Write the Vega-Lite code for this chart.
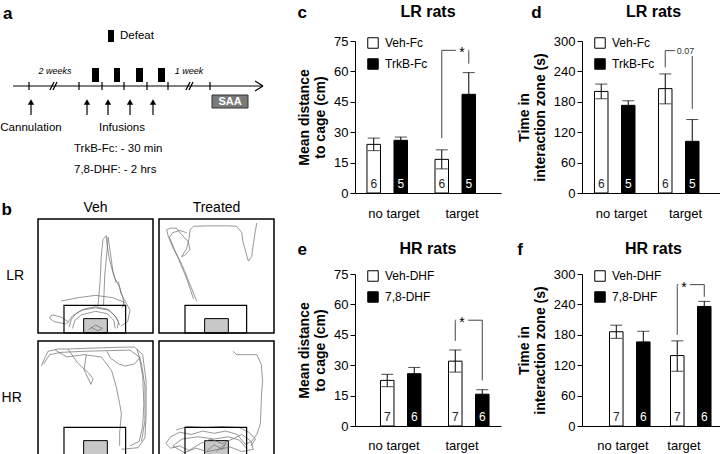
{
"$schema":"https://vega.github.io/schema/vega-lite/v6.json",
"padding":{"left":0,"top":4,"right":0,"bottom":0},
"config":{"font":"Liberation Sans","view":{"stroke":null},
 "axis":{"domainColor":"black","tickColor":"black","labelColor":"black","titleColor":"black","grid":false,"labelFontSize":13,"titleFontSize":14,"titleFontWeight":"bold","tickSize":5,"labelPadding":2,"titlePadding":6,"titleLineHeight":16},
 "title":{"color":"black"},
 "header":{"labelColor":"black"}},
"datasets":{
 "c":[{"g":"no target","t":"Veh-Fc","mean":24,"lo":20.9,"hi":27.1,"n":"6"},{"g":"no target","t":"TrkB-Fc","mean":26,"lo":24.4,"hi":27.6,"n":"5"},{"g":"target","t":"Veh-Fc","mean":16.6,"lo":11.9,"hi":21.3,"n":"6"},{"g":"target","t":"TrkB-Fc","mean":48.7,"lo":38,"hi":59.4,"n":"5"}],
 "cb":[{"g":"target","t":"Veh-Fc","y":27.1,"o":1},{"g":"target","t":"Veh-Fc","y":70.4,"o":2},{"g":"target","t":"TrkB-Fc","y":70.4,"o":3},{"g":"target","t":"TrkB-Fc","y":63.8,"o":4}],
 "cs":[{"g":"target","y":70.4,"s":"*"}],
 "d":[{"g":"no target","t":"Veh-Fc","mean":200.5,"lo":186,"hi":215,"n":"6"},{"g":"no target","t":"TrkB-Fc","mean":173,"lo":164,"hi":182,"n":"5"},{"g":"target","t":"Veh-Fc","mean":206,"lo":176,"hi":235,"n":"6"},{"g":"target","t":"TrkB-Fc","mean":102,"lo":59,"hi":145,"n":"5"}],
 "db":[{"g":"target","t":"Veh-Fc","y":248,"o":1},{"g":"target","t":"Veh-Fc","y":281,"o":2},{"g":"target","t":"TrkB-Fc","y":281,"o":3},{"g":"target","t":"TrkB-Fc","y":166,"o":4}],
 "ds":[{"g":"target","y":281,"s":"0.07"}],
 "e":[{"g":"no target","t":"Veh-DHF","mean":22.5,"lo":19.4,"hi":25.5,"n":"7"},{"g":"no target","t":"7,8-DHF","mean":25.8,"lo":22.7,"hi":28.9,"n":"6"},{"g":"target","t":"Veh-DHF","mean":32,"lo":26.6,"hi":37.5,"n":"7"},{"g":"target","t":"7,8-DHF","mean":15.7,"lo":13.5,"hi":17.9,"n":"6"}],
 "eb":[{"g":"target","t":"Veh-DHF","y":42,"o":1},{"g":"target","t":"Veh-DHF","y":52.2,"o":2},{"g":"target","t":"7,8-DHF","y":52.2,"o":3},{"g":"target","t":"7,8-DHF","y":22.5,"o":4}],
 "es":[{"g":"target","y":52.2,"s":"*"}],
 "f":[{"g":"no target","t":"Veh-DHF","mean":186,"lo":173,"hi":199,"n":"7"},{"g":"no target","t":"7,8-DHF","mean":166,"lo":145,"hi":187,"n":"6"},{"g":"target","t":"Veh-DHF","mean":139,"lo":108,"hi":168,"n":"7"},{"g":"target","t":"7,8-DHF","mean":236,"lo":226,"hi":246,"n":"6"}],
 "fb":[{"g":"target","t":"Veh-DHF","y":180,"o":1},{"g":"target","t":"Veh-DHF","y":279,"o":2},{"g":"target","t":"7,8-DHF","y":279,"o":3},{"g":"target","t":"7,8-DHF","y":255,"o":4}],
 "fs":[{"g":"target","y":279,"s":"*"}],
 "a":[
  {"k":"rule","x":12,"y":84,"x2":262,"y2":84},
  {"k":"rule","x":254,"y":79,"x2":262,"y2":84},
  {"k":"rule","x":254,"y":89,"x2":262,"y2":84},
  {"k":"rule","x":28,"y":80,"x2":28,"y2":88},
  {"k":"rule","x":78,"y":80,"x2":78,"y2":88},
  {"k":"rule","x":101,"y":80,"x2":101,"y2":88},
  {"k":"rule","x":123,"y":80,"x2":123,"y2":88},
  {"k":"rule","x":146,"y":80,"x2":146,"y2":88},
  {"k":"rule","x":167,"y":80,"x2":167,"y2":88},
  {"k":"rule","x":209,"y":80,"x2":209,"y2":88},
  {"k":"rule","x":49,"y":88,"x2":53,"y2":80},
  {"k":"rule","x":52,"y":88,"x2":56,"y2":80},
  {"k":"rule","x":185,"y":88,"x2":189,"y2":80},
  {"k":"rule","x":188,"y":88,"x2":192,"y2":80},
  {"k":"rule","x":30,"y":113,"x2":30,"y2":100},
  {"k":"rule","x":86,"y":113,"x2":86,"y2":100},
  {"k":"rule","x":107,"y":113,"x2":107,"y2":100},
  {"k":"rule","x":129,"y":113,"x2":129,"y2":100},
  {"k":"rule","x":152,"y":113,"x2":152,"y2":100},
  {"k":"tri","x":30,"y":100},{"k":"tri","x":86,"y":100},{"k":"tri","x":107,"y":100},{"k":"tri","x":129,"y":100},{"k":"tri","x":152,"y":100},
  {"k":"rect","x":91,"x2":98,"y":66,"y2":80},
  {"k":"rect","x":113,"x2":119,"y":66,"y2":80},
  {"k":"rect","x":135,"x2":142,"y":66,"y2":80},
  {"k":"rect","x":157,"x2":164,"y":66,"y2":80},
  {"k":"rect","x":107,"x2":113,"y":28,"y2":40},
  {"k":"saa","x":211,"x2":247,"y":93,"y2":106},
  {"k":"tc","x":30,"y":126,"label":"Cannulation"},
  {"k":"tc","x":121,"y":126,"label":"Infusions"},
  {"k":"tl","x":119,"y":34,"label":"Defeat"},
  {"k":"tl","x":73,"y":147,"label":"TrkB-Fc: - 30 min"},
  {"k":"tl","x":73,"y":168,"label":"7,8-DHF: - 2 hrs"},
  {"k":"ti","x":54,"y":69,"label":"2 weeks"},
  {"k":"ti","x":188,"y":69,"label":"1 week"},
  {"k":"ts","x":229,"y":100,"label":"SAA"},
  {"k":"tletter","x":2,"y":12,"label":"a"}
 ],
 "b":[
  {"r":"LR","t":"Veh","k":"box","x":0,"x2":100,"y":0,"y2":100},
  {"r":"LR","t":"Treated","k":"box","x":0,"x2":100,"y":0,"y2":100},
  {"r":"HR","t":"Veh","k":"box","x":0,"x2":100,"y":0,"y2":100},
  {"r":"HR","t":"Treated","k":"box","x":0,"x2":100,"y":0,"y2":100},
  {"r":"LR","t":"Veh","k":"zone","x":22.6,"x2":76.2,"y":0,"y2":24.3},
  {"r":"LR","t":"Treated","k":"zone","x":22.6,"x2":76.2,"y":0,"y2":24.3},
  {"r":"HR","t":"Veh","k":"zone","x":22.6,"x2":76.2,"y":0,"y2":24.3},
  {"r":"HR","t":"Treated","k":"zone","x":22.6,"x2":76.2,"y":0,"y2":24.3},
  {"r":"LR","t":"Veh","k":"cage","x":39.7,"x2":60.3,"y":0,"y2":12.6},
  {"r":"LR","t":"Treated","k":"cage","x":39.7,"x2":60.3,"y":0,"y2":12.6},
  {"r":"HR","t":"Veh","k":"cage","x":39.7,"x2":60.3,"y":0,"y2":12.6},
  {"r":"HR","t":"Treated","k":"cage","x":39.7,"x2":60.3,"y":0,"y2":12.6},
  {"r":"LR","t":"Veh","k":"tr","s":1,"o":1,"x":27,"y":5},{"r":"LR","t":"Veh","k":"tr","s":1,"o":2,"x":29,"y":12},{"r":"LR","t":"Veh","k":"tr","s":1,"o":3,"x":33,"y":17},{"r":"LR","t":"Veh","k":"tr","s":1,"o":4,"x":40,"y":21},{"r":"LR","t":"Veh","k":"tr","s":1,"o":5,"x":50,"y":23},{"r":"LR","t":"Veh","k":"tr","s":1,"o":6,"x":60,"y":21},{"r":"LR","t":"Veh","k":"tr","s":1,"o":7,"x":66,"y":16},{"r":"LR","t":"Veh","k":"tr","s":1,"o":8,"x":70,"y":10},{"r":"LR","t":"Veh","k":"tr","s":1,"o":9,"x":69,"y":4},
  {"r":"LR","t":"Veh","k":"tr","s":2,"o":1,"x":25,"y":8},{"r":"LR","t":"Veh","k":"tr","s":2,"o":2,"x":30,"y":15},{"r":"LR","t":"Veh","k":"tr","s":2,"o":3,"x":38,"y":20},{"r":"LR","t":"Veh","k":"tr","s":2,"o":4,"x":50,"y":22},{"r":"LR","t":"Veh","k":"tr","s":2,"o":5,"x":62,"y":20},{"r":"LR","t":"Veh","k":"tr","s":2,"o":6,"x":68,"y":14},{"r":"LR","t":"Veh","k":"tr","s":2,"o":7,"x":71,"y":7},
  {"r":"LR","t":"Veh","k":"tr","s":3,"o":1,"x":30,"y":4},{"r":"LR","t":"Veh","k":"tr","s":3,"o":2,"x":32,"y":11},{"r":"LR","t":"Veh","k":"tr","s":3,"o":3,"x":38,"y":16},{"r":"LR","t":"Veh","k":"tr","s":3,"o":4,"x":50,"y":19},{"r":"LR","t":"Veh","k":"tr","s":3,"o":5,"x":60,"y":17},{"r":"LR","t":"Veh","k":"tr","s":3,"o":6,"x":66,"y":11},{"r":"LR","t":"Veh","k":"tr","s":3,"o":7,"x":67,"y":4},
  {"r":"LR","t":"Veh","k":"tr","s":4,"o":1,"x":52,"y":23},{"r":"LR","t":"Veh","k":"tr","s":4,"o":2,"x":54,"y":45},{"r":"LR","t":"Veh","k":"tr","s":4,"o":3,"x":55,"y":67},{"r":"LR","t":"Veh","k":"tr","s":4,"o":4,"x":56.5,"y":82},{"r":"LR","t":"Veh","k":"tr","s":4,"o":5,"x":59.4,"y":85.4},{"r":"LR","t":"Veh","k":"tr","s":4,"o":6,"x":60,"y":78},{"r":"LR","t":"Veh","k":"tr","s":4,"o":7,"x":62,"y":65},{"r":"LR","t":"Veh","k":"tr","s":4,"o":8,"x":66,"y":50},{"r":"LR","t":"Veh","k":"tr","s":4,"o":9,"x":71,"y":40},{"r":"LR","t":"Veh","k":"tr","s":4,"o":10,"x":74,"y":30},{"r":"LR","t":"Veh","k":"tr","s":4,"o":11,"x":75,"y":23},
  {"r":"LR","t":"Veh","k":"tr","s":5,"o":1,"x":57,"y":24},{"r":"LR","t":"Veh","k":"tr","s":5,"o":2,"x":58,"y":50},{"r":"LR","t":"Veh","k":"tr","s":5,"o":3,"x":60,"y":72},{"r":"LR","t":"Veh","k":"tr","s":5,"o":4,"x":61,"y":84},{"r":"LR","t":"Veh","k":"tr","s":5,"o":5,"x":63,"y":70},{"r":"LR","t":"Veh","k":"tr","s":5,"o":6,"x":65,"y":55},{"r":"LR","t":"Veh","k":"tr","s":5,"o":7,"x":68,"y":44},
  {"r":"LR","t":"Veh","k":"tr","s":6,"o":1,"x":26,"y":10},{"r":"LR","t":"Veh","k":"tr","s":6,"o":2,"x":20,"y":14},{"r":"LR","t":"Veh","k":"tr","s":6,"o":3,"x":12,"y":16},{"r":"LR","t":"Veh","k":"tr","s":6,"o":4,"x":10,"y":13},{"r":"LR","t":"Veh","k":"tr","s":6,"o":5,"x":14,"y":10},{"r":"LR","t":"Veh","k":"tr","s":6,"o":6,"x":24,"y":8},
  {"r":"LR","t":"Veh","k":"tr","s":7,"o":1,"x":20,"y":28},{"r":"LR","t":"Veh","k":"tr","s":7,"o":2,"x":35,"y":31},{"r":"LR","t":"Veh","k":"tr","s":7,"o":3,"x":50,"y":33},{"r":"LR","t":"Veh","k":"tr","s":7,"o":4,"x":65,"y":31},{"r":"LR","t":"Veh","k":"tr","s":7,"o":5,"x":75,"y":27},{"r":"LR","t":"Veh","k":"tr","s":7,"o":6,"x":73,"y":22},
  {"r":"LR","t":"Veh","k":"tr","s":8,"o":1,"x":70,"y":45},{"r":"LR","t":"Veh","k":"tr","s":8,"o":2,"x":72,"y":35},{"r":"LR","t":"Veh","k":"tr","s":8,"o":3,"x":80,"y":20},{"r":"LR","t":"Veh","k":"tr","s":8,"o":4,"x":78,"y":10},{"r":"LR","t":"Veh","k":"tr","s":8,"o":5,"x":72,"y":6},
  {"r":"LR","t":"Veh","k":"tr","s":9,"o":1,"x":44,"y":3},{"r":"LR","t":"Veh","k":"tr","s":9,"o":2,"x":50,"y":7},{"r":"LR","t":"Veh","k":"tr","s":9,"o":3,"x":56,"y":4},{"r":"LR","t":"Veh","k":"tr","s":9,"o":4,"x":52,"y":2},{"r":"LR","t":"Veh","k":"tr","s":9,"o":5,"x":46,"y":5},
  {"r":"LR","t":"Treated","k":"tr","s":1,"o":1,"x":32.8,"y":27.8},{"r":"LR","t":"Treated","k":"tr","s":1,"o":2,"x":28,"y":40},{"r":"LR","t":"Treated","k":"tr","s":1,"o":3,"x":22,"y":55},{"r":"LR","t":"Treated","k":"tr","s":1,"o":4,"x":18,"y":64},{"r":"LR","t":"Treated","k":"tr","s":1,"o":5,"x":12,"y":75},{"r":"LR","t":"Treated","k":"tr","s":1,"o":6,"x":8,"y":85},{"r":"LR","t":"Treated","k":"tr","s":1,"o":7,"x":6.7,"y":90.6},{"r":"LR","t":"Treated","k":"tr","s":1,"o":8,"x":10,"y":92},{"r":"LR","t":"Treated","k":"tr","s":1,"o":9,"x":15,"y":92},{"r":"LR","t":"Treated","k":"tr","s":1,"o":10,"x":20,"y":86},{"r":"LR","t":"Treated","k":"tr","s":1,"o":11,"x":25.5,"y":80},{"r":"LR","t":"Treated","k":"tr","s":1,"o":12,"x":27,"y":73},{"r":"LR","t":"Treated","k":"tr","s":1,"o":13,"x":22,"y":68},{"r":"LR","t":"Treated","k":"tr","s":1,"o":14,"x":19.7,"y":67},{"r":"LR","t":"Treated","k":"tr","s":1,"o":15,"x":24,"y":74},{"r":"LR","t":"Treated","k":"tr","s":1,"o":16,"x":26,"y":82},{"r":"LR","t":"Treated","k":"tr","s":1,"o":17,"x":27,"y":90.6},{"r":"LR","t":"Treated","k":"tr","s":1,"o":18,"x":30,"y":93.6},{"r":"LR","t":"Treated","k":"tr","s":1,"o":19,"x":45,"y":94},{"r":"LR","t":"Treated","k":"tr","s":1,"o":20,"x":60,"y":94},{"r":"LR","t":"Treated","k":"tr","s":1,"o":21,"x":67.5,"y":93.6},{"r":"LR","t":"Treated","k":"tr","s":1,"o":22,"x":72,"y":88},{"r":"LR","t":"Treated","k":"tr","s":1,"o":23,"x":73,"y":80},{"r":"LR","t":"Treated","k":"tr","s":1,"o":24,"x":77.7,"y":63},{"r":"LR","t":"Treated","k":"tr","s":1,"o":25,"x":80.6,"y":67},{"r":"LR","t":"Treated","k":"tr","s":1,"o":26,"x":82,"y":78},{"r":"LR","t":"Treated","k":"tr","s":1,"o":27,"x":83.5,"y":87.7},{"r":"LR","t":"Treated","k":"tr","s":1,"o":28,"x":85,"y":96.5},
  {"r":"LR","t":"Treated","k":"tr","s":2,"o":1,"x":30,"y":30},{"r":"LR","t":"Treated","k":"tr","s":2,"o":2,"x":24,"y":48},{"r":"LR","t":"Treated","k":"tr","s":2,"o":3,"x":19,"y":60},{"r":"LR","t":"Treated","k":"tr","s":2,"o":4,"x":14,"y":72},{"r":"LR","t":"Treated","k":"tr","s":2,"o":5,"x":9,"y":84},{"r":"LR","t":"Treated","k":"tr","s":2,"o":6,"x":12,"y":88},{"r":"LR","t":"Treated","k":"tr","s":2,"o":7,"x":18,"y":90},{"r":"LR","t":"Treated","k":"tr","s":2,"o":8,"x":24,"y":88},
  {"r":"HR","t":"Veh","k":"tr","s":1,"o":1,"x":3,"y":78},{"r":"HR","t":"Veh","k":"tr","s":1,"o":2,"x":5.8,"y":85},{"r":"HR","t":"Veh","k":"tr","s":1,"o":3,"x":8.7,"y":91},{"r":"HR","t":"Veh","k":"tr","s":1,"o":4,"x":18,"y":93},{"r":"HR","t":"Veh","k":"tr","s":1,"o":5,"x":26,"y":93},{"r":"HR","t":"Veh","k":"tr","s":1,"o":6,"x":40,"y":93.5},{"r":"HR","t":"Veh","k":"tr","s":1,"o":7,"x":55,"y":94},{"r":"HR","t":"Veh","k":"tr","s":1,"o":8,"x":70,"y":94.5},{"r":"HR","t":"Veh","k":"tr","s":1,"o":9,"x":84,"y":94.7},{"r":"HR","t":"Veh","k":"tr","s":1,"o":10,"x":91,"y":88},{"r":"HR","t":"Veh","k":"tr","s":1,"o":11,"x":94,"y":65},{"r":"HR","t":"Veh","k":"tr","s":1,"o":12,"x":94,"y":36},{"r":"HR","t":"Veh","k":"tr","s":1,"o":13,"x":93,"y":15},{"r":"HR","t":"Veh","k":"tr","s":1,"o":14,"x":87,"y":6.4},{"r":"HR","t":"Veh","k":"tr","s":1,"o":15,"x":72.5,"y":5},
  {"r":"HR","t":"Veh","k":"tr","s":2,"o":1,"x":5,"y":80},{"r":"HR","t":"Veh","k":"tr","s":2,"o":2,"x":10,"y":88},{"r":"HR","t":"Veh","k":"tr","s":2,"o":3,"x":20,"y":90},{"r":"HR","t":"Veh","k":"tr","s":2,"o":4,"x":40,"y":91},{"r":"HR","t":"Veh","k":"tr","s":2,"o":5,"x":60,"y":91.5},{"r":"HR","t":"Veh","k":"tr","s":2,"o":6,"x":80,"y":92},{"r":"HR","t":"Veh","k":"tr","s":2,"o":7,"x":88,"y":86},{"r":"HR","t":"Veh","k":"tr","s":2,"o":8,"x":91,"y":70},{"r":"HR","t":"Veh","k":"tr","s":2,"o":9,"x":92,"y":45},{"r":"HR","t":"Veh","k":"tr","s":2,"o":10,"x":91,"y":25},{"r":"HR","t":"Veh","k":"tr","s":2,"o":11,"x":88,"y":12},{"r":"HR","t":"Veh","k":"tr","s":2,"o":12,"x":80,"y":8},
  {"r":"HR","t":"Veh","k":"tr","s":3,"o":1,"x":15,"y":92},{"r":"HR","t":"Veh","k":"tr","s":3,"o":2,"x":25,"y":86},{"r":"HR","t":"Veh","k":"tr","s":3,"o":3,"x":40,"y":88},{"r":"HR","t":"Veh","k":"tr","s":3,"o":4,"x":55,"y":86},{"r":"HR","t":"Veh","k":"tr","s":3,"o":5,"x":64,"y":74},{"r":"HR","t":"Veh","k":"tr","s":3,"o":6,"x":68,"y":60},{"r":"HR","t":"Veh","k":"tr","s":3,"o":7,"x":71,"y":45},{"r":"HR","t":"Veh","k":"tr","s":3,"o":8,"x":72.5,"y":36},{"r":"HR","t":"Veh","k":"tr","s":3,"o":9,"x":71,"y":20},{"r":"HR","t":"Veh","k":"tr","s":3,"o":10,"x":71,"y":8},
  {"r":"HR","t":"Veh","k":"tr","s":4,"o":1,"x":26,"y":93},{"r":"HR","t":"Veh","k":"tr","s":4,"o":2,"x":35,"y":80},{"r":"HR","t":"Veh","k":"tr","s":4,"o":3,"x":44,"y":72},{"r":"HR","t":"Veh","k":"tr","s":4,"o":4,"x":48,"y":66.7},{"r":"HR","t":"Veh","k":"tr","s":4,"o":5,"x":46,"y":62},{"r":"HR","t":"Veh","k":"tr","s":4,"o":6,"x":40,"y":75},{"r":"HR","t":"Veh","k":"tr","s":4,"o":7,"x":42,"y":88},
  {"r":"HR","t":"Veh","k":"tr","s":5,"o":1,"x":86,"y":93},{"r":"HR","t":"Veh","k":"tr","s":5,"o":2,"x":90,"y":80},{"r":"HR","t":"Veh","k":"tr","s":5,"o":3,"x":93,"y":60},{"r":"HR","t":"Veh","k":"tr","s":5,"o":4,"x":93,"y":30},{"r":"HR","t":"Veh","k":"tr","s":5,"o":5,"x":90,"y":12},
  {"r":"HR","t":"Veh","k":"tr","s":6,"o":1,"x":60,"y":91},{"r":"HR","t":"Veh","k":"tr","s":6,"o":2,"x":63,"y":85},{"r":"HR","t":"Veh","k":"tr","s":6,"o":3,"x":70,"y":80},{"r":"HR","t":"Veh","k":"tr","s":6,"o":4,"x":76,"y":78},{"r":"HR","t":"Veh","k":"tr","s":6,"o":5,"x":84,"y":80},{"r":"HR","t":"Veh","k":"tr","s":6,"o":6,"x":89,"y":86},
  {"r":"HR","t":"Treated","k":"tr","s":1,"o":1,"x":64.6,"y":91},{"r":"HR","t":"Treated","k":"tr","s":1,"o":2,"x":67.5,"y":88},{"r":"HR","t":"Treated","k":"tr","s":1,"o":3,"x":76,"y":88},{"r":"HR","t":"Treated","k":"tr","s":1,"o":4,"x":85,"y":88},{"r":"HR","t":"Treated","k":"tr","s":1,"o":5,"x":89,"y":79.5},{"r":"HR","t":"Treated","k":"tr","s":1,"o":6,"x":90,"y":65},{"r":"HR","t":"Treated","k":"tr","s":1,"o":7,"x":89,"y":50},{"r":"HR","t":"Treated","k":"tr","s":1,"o":8,"x":88.5,"y":35},{"r":"HR","t":"Treated","k":"tr","s":1,"o":9,"x":88,"y":27},{"r":"HR","t":"Treated","k":"tr","s":1,"o":10,"x":85,"y":18},{"r":"HR","t":"Treated","k":"tr","s":1,"o":11,"x":80.6,"y":12},{"r":"HR","t":"Treated","k":"tr","s":1,"o":12,"x":75,"y":9.4},
  {"r":"HR","t":"Treated","k":"tr","s":2,"o":1,"x":75,"y":9.4},{"r":"HR","t":"Treated","k":"tr","s":2,"o":2,"x":68,"y":18},{"r":"HR","t":"Treated","k":"tr","s":2,"o":3,"x":58,"y":21},{"r":"HR","t":"Treated","k":"tr","s":2,"o":4,"x":48,"y":19},{"r":"HR","t":"Treated","k":"tr","s":2,"o":5,"x":38,"y":21},{"r":"HR","t":"Treated","k":"tr","s":2,"o":6,"x":28,"y":18},{"r":"HR","t":"Treated","k":"tr","s":2,"o":7,"x":18,"y":20},{"r":"HR","t":"Treated","k":"tr","s":2,"o":8,"x":10,"y":16},{"r":"HR","t":"Treated","k":"tr","s":2,"o":9,"x":6,"y":10},{"r":"HR","t":"Treated","k":"tr","s":2,"o":10,"x":10,"y":6},{"r":"HR","t":"Treated","k":"tr","s":2,"o":11,"x":18,"y":8},{"r":"HR","t":"Treated","k":"tr","s":2,"o":12,"x":26,"y":4},{"r":"HR","t":"Treated","k":"tr","s":2,"o":13,"x":36,"y":10},{"r":"HR","t":"Treated","k":"tr","s":2,"o":14,"x":45,"y":14},{"r":"HR","t":"Treated","k":"tr","s":2,"o":15,"x":55,"y":10},{"r":"HR","t":"Treated","k":"tr","s":2,"o":16,"x":64,"y":14},{"r":"HR","t":"Treated","k":"tr","s":2,"o":17,"x":72,"y":18},{"r":"HR","t":"Treated","k":"tr","s":2,"o":18,"x":80,"y":12},{"r":"HR","t":"Treated","k":"tr","s":2,"o":19,"x":82,"y":5},{"r":"HR","t":"Treated","k":"tr","s":2,"o":20,"x":72,"y":3},{"r":"HR","t":"Treated","k":"tr","s":2,"o":21,"x":62,"y":7},{"r":"HR","t":"Treated","k":"tr","s":2,"o":22,"x":52,"y":5},{"r":"HR","t":"Treated","k":"tr","s":2,"o":23,"x":42,"y":3},{"r":"HR","t":"Treated","k":"tr","s":2,"o":24,"x":32,"y":6},{"r":"HR","t":"Treated","k":"tr","s":2,"o":25,"x":22,"y":2},{"r":"HR","t":"Treated","k":"tr","s":2,"o":26,"x":12,"y":8},{"r":"HR","t":"Treated","k":"tr","s":2,"o":27,"x":20,"y":14},{"r":"HR","t":"Treated","k":"tr","s":2,"o":28,"x":34,"y":16},{"r":"HR","t":"Treated","k":"tr","s":2,"o":29,"x":48,"y":14},{"r":"HR","t":"Treated","k":"tr","s":2,"o":30,"x":60,"y":16},{"r":"HR","t":"Treated","k":"tr","s":2,"o":31,"x":70,"y":13},{"r":"HR","t":"Treated","k":"tr","s":2,"o":32,"x":76,"y":6},
  {"r":"HR","t":"Treated","k":"tr","s":3,"o":1,"x":15,"y":22},{"r":"HR","t":"Treated","k":"tr","s":3,"o":2,"x":25,"y":25},{"r":"HR","t":"Treated","k":"tr","s":3,"o":3,"x":40,"y":24},{"r":"HR","t":"Treated","k":"tr","s":3,"o":4,"x":55,"y":25},{"r":"HR","t":"Treated","k":"tr","s":3,"o":5,"x":70,"y":24},{"r":"HR","t":"Treated","k":"tr","s":3,"o":6,"x":78,"y":20},{"r":"HR","t":"Treated","k":"tr","s":3,"o":7,"x":84,"y":14},{"r":"HR","t":"Treated","k":"tr","s":3,"o":8,"x":80,"y":8},
  {"r":"HR","t":"Treated","k":"tr","s":4,"o":1,"x":42,"y":4},{"r":"HR","t":"Treated","k":"tr","s":4,"o":2,"x":48,"y":9},{"r":"HR","t":"Treated","k":"tr","s":4,"o":3,"x":55,"y":5},{"r":"HR","t":"Treated","k":"tr","s":4,"o":4,"x":58,"y":10},{"r":"HR","t":"Treated","k":"tr","s":4,"o":5,"x":50,"y":3}
 ]
},
"resolve":{"scale":{"fill":"independent"},"legend":{"fill":"independent"}},
"columns":2,
"spacing":22,
"concat":[
 {"columns":1,"spacing":2,"resolve":{"scale":{"fill":"independent"},"legend":{"fill":"independent"}},
  "concat":[
  {"width":234,"height":158,"data":{"name":"a"},
   "encoding":{"x":{"field":"x","type":"quantitative","scale":{"domain":[37,271],"nice":false,"zero":false},"axis":null},
               "y":{"field":"y","type":"quantitative","scale":{"domain":[39,197],"nice":false,"zero":false,"reverse":true},"axis":null}},
   "layer":[
    {"transform":[{"filter":"datum.k==='rule'"}],"mark":{"type":"rule","color":"black","strokeWidth":1.2},"encoding":{"x2":{"field":"x2"},"y2":{"field":"y2"}}},
    {"transform":[{"filter":"datum.k==='tri'"}],"mark":{"type":"point","shape":"triangle-up","filled":true,"color":"black","size":40,"opacity":1}},
    {"transform":[{"filter":"datum.k==='rect'"}],"mark":{"type":"rect","color":"black"},"encoding":{"x2":{"field":"x2"},"y2":{"field":"y2"}}},
    {"transform":[{"filter":"datum.k==='saa'"}],"mark":{"type":"rect","fill":"#7a7a7a","stroke":"#333","strokeWidth":1},"encoding":{"x2":{"field":"x2"},"y2":{"field":"y2"}}},
    {"transform":[{"filter":"datum.k==='tc'"}],"mark":{"type":"text","fontSize":11.5,"align":"center","baseline":"middle","color":"black"},"encoding":{"text":{"field":"label"}}},
    {"transform":[{"filter":"datum.k==='tl'"}],"mark":{"type":"text","fontSize":11.5,"align":"left","baseline":"middle","color":"black"},"encoding":{"text":{"field":"label"}}},
    {"transform":[{"filter":"datum.k==='ti'"}],"mark":{"type":"text","fontSize":9,"fontStyle":"italic","align":"center","baseline":"middle","color":"black"},"encoding":{"text":{"field":"label"}}},
    {"transform":[{"filter":"datum.k==='ts'"}],"mark":{"type":"text","fontSize":11,"fontWeight":"bold","align":"center","baseline":"middle","color":"white"},"encoding":{"text":{"field":"label"}}},
    {"transform":[{"filter":"datum.k==='tletter'"}],"mark":{"type":"text","fontSize":17,"fontWeight":"bold","align":"left","baseline":"middle","color":"black"},"encoding":{"text":{"field":"label"}}}
   ]},
  {"data":{"name":"b"},
   "title":{"text":"b","anchor":"start","frame":"bounds","fontSize":17,"fontWeight":"bold","offset":-18},
   "spacing":{"row":6,"column":4},
   "facet":{"row":{"field":"r","type":"nominal","sort":["LR","HR"],"header":{"title":null,"labelAngle":0,"labelFontSize":14,"labelPadding":-5}},
            "column":{"field":"t","type":"nominal","sort":["Veh","Treated"],"header":{"title":null,"labelFontSize":14,"labelPadding":3}}},
   "spec":{"width":115,"height":114,
    "encoding":{"x":{"field":"x","type":"quantitative","scale":{"domain":[0,100],"nice":false},"axis":null},
                "y":{"field":"y","type":"quantitative","scale":{"domain":[0,100],"nice":false},"axis":null}},
    "layer":[
     {"transform":[{"filter":"datum.k==='cage'"}],"mark":{"type":"rect","fill":"#c8c8c8","stroke":"black","strokeWidth":1},"encoding":{"x2":{"field":"x2"},"y2":{"field":"y2"}}},
     {"transform":[{"filter":"datum.k==='tr'"}],"mark":{"type":"line","color":"#6a6a6a","strokeWidth":0.7},"encoding":{"detail":{"field":"s"},"order":{"field":"o"}}},
     {"transform":[{"filter":"datum.k==='zone'"}],"mark":{"type":"rect","filled":false,"color":"black","strokeWidth":1.2},"encoding":{"x2":{"field":"x2"},"y2":{"field":"y2"}}},
     {"transform":[{"filter":"datum.k==='box'"}],"mark":{"type":"rect","filled":false,"color":"black","strokeWidth":1.5},"encoding":{"x2":{"field":"x2"},"y2":{"field":"y2"}}}
    ]}}
 ]},
 {"spacing":21,"resolve":{"scale":{"fill":"independent"},"legend":{"fill":"independent"}},
  "vconcat":[
   {"spacing":16,"resolve":{"scale":{"fill":"independent"},"legend":{"fill":"independent"}},
    "hconcat":[
     {"title":{"text":"c","anchor":"start","frame":"bounds","fontSize":17,"fontWeight":"bold","offset":-18},
      "resolve":{"scale":{"fill":"independent"},"legend":{"fill":"independent"}},
      "vconcat":[{"width":146,"height":152,"data":{"name":"c"},
       "title":{"text":"LR rats","fontSize":16,"fontWeight":"bold","anchor":"middle","offset":15},
       "layer":[
        {"mark":{"type":"bar","stroke":"black","strokeWidth":1},"encoding":{
          "x":{"field":"g","type":"nominal","sort":["no target","target"],"scale":{"paddingInner":0.206,"paddingOuter":0.176},"axis":{"title":null,"ticks":false,"labelAngle":0,"labelPadding":14}},
          "xOffset":{"field":"t","type":"nominal","sort":["Veh-Fc","TrkB-Fc"],"scale":{"paddingInner":0,"paddingOuter":0}},
          "y":{"field":"mean","type":"quantitative","scale":{"domain":[0,75],"nice":false},"axis":{"values":[0,15,30,45,60,75],"title":["Mean distance","to cage (cm)"]}},
          "fill":{"field":"t","type":"nominal","scale":{"domain":["Veh-Fc","TrkB-Fc"],"range":["white","black"]},"legend":{"title":null,"orient":"none","legendX":12,"legendY":-4,"symbolType":"square","symbolSize":110,"symbolStrokeColor":"black","symbolStrokeWidth":1,"labelFontSize":12,"labelOffset":6,"rowPadding":5}}}},
        {"mark":{"type":"rule","color":"black","strokeWidth":1},"encoding":{"x":{"field":"g","type":"nominal","sort":["no target","target"]},"xOffset":{"field":"t","type":"nominal","sort":["Veh-Fc","TrkB-Fc"]},"y":{"field":"lo","type":"quantitative","axis":{"values":[0,15,30,45,60,75],"title":["Mean distance","to cage (cm)"]}},"y2":{"field":"hi"}}},
        {"mark":{"type":"tick","color":"black","size":12,"thickness":1},"encoding":{"x":{"field":"g","type":"nominal","sort":["no target","target"]},"xOffset":{"field":"t","type":"nominal","sort":["Veh-Fc","TrkB-Fc"]},"y":{"field":"hi","type":"quantitative","axis":{"values":[0,15,30,45,60,75],"title":["Mean distance","to cage (cm)"]}}}},
        {"mark":{"type":"tick","color":"black","size":12,"thickness":1},"encoding":{"x":{"field":"g","type":"nominal","sort":["no target","target"]},"xOffset":{"field":"t","type":"nominal","sort":["Veh-Fc","TrkB-Fc"]},"y":{"field":"lo","type":"quantitative","axis":{"values":[0,15,30,45,60,75],"title":["Mean distance","to cage (cm)"]}}}},
        {"mark":{"type":"text","fontSize":12,"baseline":"middle","dy":-9},"encoding":{"x":{"field":"g","type":"nominal","sort":["no target","target"]},"xOffset":{"field":"t","type":"nominal","sort":["Veh-Fc","TrkB-Fc"]},"y":{"datum":0,"type":"quantitative","axis":{"values":[0,15,30,45,60,75],"title":["Mean distance","to cage (cm)"]}},"text":{"field":"n"},"color":{"condition":{"test":"datum.t==='TrkB-Fc'","value":"white"},"value":"#222"}}},
        {"data":{"name":"cb"},"mark":{"type":"line","color":"#444","strokeWidth":1},"encoding":{"x":{"field":"g","type":"nominal","sort":["no target","target"]},"xOffset":{"field":"t","type":"nominal","sort":["Veh-Fc","TrkB-Fc"]},"y":{"field":"y","type":"quantitative","axis":{"values":[0,15,30,45,60,75],"title":["Mean distance","to cage (cm)"]}},"order":{"field":"o"}}},
        {"data":{"name":"cs"},"mark":{"type":"text","fontSize":14,"baseline":"middle","dy":3,"fill":"white","stroke":"white","strokeWidth":6},"encoding":{"x":{"field":"g","type":"nominal","sort":["no target","target"]},"y":{"field":"y","type":"quantitative","axis":{"values":[0,15,30,45,60,75],"title":["Mean distance","to cage (cm)"]}},"text":{"field":"s"}}},
        {"data":{"name":"cs"},"mark":{"type":"text","fontSize":14,"baseline":"middle","dy":3,"fill":"black"},"encoding":{"x":{"field":"g","type":"nominal","sort":["no target","target"]},"y":{"field":"y","type":"quantitative","axis":{"values":[0,15,30,45,60,75],"title":["Mean distance","to cage (cm)"]}},"text":{"field":"s"}}}
       ]}]},
     {"title":{"text":"d","anchor":"start","frame":"bounds","fontSize":17,"fontWeight":"bold","offset":-18,"dx":14},
      "resolve":{"scale":{"fill":"independent"},"legend":{"fill":"independent"}},
      "vconcat":[{"width":143,"height":152,"data":{"name":"d"},
       "title":{"text":"LR rats","fontSize":16,"fontWeight":"bold","anchor":"middle","offset":15},
       "layer":[
        {"mark":{"type":"bar","stroke":"black","strokeWidth":1},"encoding":{
          "x":{"field":"g","type":"nominal","sort":["no target","target"],"scale":{"paddingInner":0.156,"paddingOuter":0.195},"axis":{"title":null,"ticks":false,"labelAngle":0,"labelPadding":14}},
          "xOffset":{"field":"t","type":"nominal","sort":["Veh-Fc","TrkB-Fc"],"scale":{"paddingInner":0,"paddingOuter":0}},
          "y":{"field":"mean","type":"quantitative","scale":{"domain":[0,300],"nice":false},"axis":{"values":[0,60,120,180,240,300],"title":["Time in","interaction zone (s)"]}},
          "fill":{"field":"t","type":"nominal","scale":{"domain":["Veh-Fc","TrkB-Fc"],"range":["white","black"]},"legend":{"title":null,"orient":"none","legendX":12,"legendY":-4,"symbolType":"square","symbolSize":110,"symbolStrokeColor":"black","symbolStrokeWidth":1,"labelFontSize":12,"labelOffset":6,"rowPadding":5}}}},
        {"mark":{"type":"rule","color":"black","strokeWidth":1},"encoding":{"x":{"field":"g","type":"nominal","sort":["no target","target"]},"xOffset":{"field":"t","type":"nominal","sort":["Veh-Fc","TrkB-Fc"]},"y":{"field":"lo","type":"quantitative","axis":{"values":[0,60,120,180,240,300],"title":["Time in","interaction zone (s)"]}},"y2":{"field":"hi"}}},
        {"mark":{"type":"tick","color":"black","size":12,"thickness":1},"encoding":{"x":{"field":"g","type":"nominal","sort":["no target","target"]},"xOffset":{"field":"t","type":"nominal","sort":["Veh-Fc","TrkB-Fc"]},"y":{"field":"hi","type":"quantitative","axis":{"values":[0,60,120,180,240,300],"title":["Time in","interaction zone (s)"]}}}},
        {"mark":{"type":"tick","color":"black","size":12,"thickness":1},"encoding":{"x":{"field":"g","type":"nominal","sort":["no target","target"]},"xOffset":{"field":"t","type":"nominal","sort":["Veh-Fc","TrkB-Fc"]},"y":{"field":"lo","type":"quantitative","axis":{"values":[0,60,120,180,240,300],"title":["Time in","interaction zone (s)"]}}}},
        {"mark":{"type":"text","fontSize":12,"baseline":"middle","dy":-9},"encoding":{"x":{"field":"g","type":"nominal","sort":["no target","target"]},"xOffset":{"field":"t","type":"nominal","sort":["Veh-Fc","TrkB-Fc"]},"y":{"datum":0,"type":"quantitative","axis":{"values":[0,60,120,180,240,300],"title":["Time in","interaction zone (s)"]}},"text":{"field":"n"},"color":{"condition":{"test":"datum.t==='TrkB-Fc'","value":"white"},"value":"#222"}}},
        {"data":{"name":"db"},"mark":{"type":"line","color":"#444","strokeWidth":1},"encoding":{"x":{"field":"g","type":"nominal","sort":["no target","target"]},"xOffset":{"field":"t","type":"nominal","sort":["Veh-Fc","TrkB-Fc"]},"y":{"field":"y","type":"quantitative","axis":{"values":[0,60,120,180,240,300],"title":["Time in","interaction zone (s)"]}},"order":{"field":"o"}}},
        {"data":{"name":"ds"},"mark":{"type":"text","fontSize":9,"baseline":"middle","fill":"white","stroke":"white","strokeWidth":4},"encoding":{"x":{"field":"g","type":"nominal","sort":["no target","target"]},"y":{"field":"y","type":"quantitative","axis":{"values":[0,60,120,180,240,300],"title":["Time in","interaction zone (s)"]}},"text":{"field":"s"}}},
        {"data":{"name":"ds"},"mark":{"type":"text","fontSize":9,"baseline":"middle","fill":"#333"},"encoding":{"x":{"field":"g","type":"nominal","sort":["no target","target"]},"y":{"field":"y","type":"quantitative","axis":{"values":[0,60,120,180,240,300],"title":["Time in","interaction zone (s)"]}},"text":{"field":"s"}}}
       ]}]}
    ]},
   {"spacing":16,"resolve":{"scale":{"fill":"independent"},"legend":{"fill":"independent"}},
    "hconcat":[
     {"title":{"text":"e","anchor":"start","frame":"bounds","fontSize":17,"fontWeight":"bold","offset":-18},
      "resolve":{"scale":{"fill":"independent"},"legend":{"fill":"independent"}},
      "vconcat":[{"width":146,"height":152,"data":{"name":"e"},
       "title":{"text":"HR rats","fontSize":16,"fontWeight":"bold","anchor":"middle","offset":11},
       "layer":[
        {"mark":{"type":"bar","stroke":"black","strokeWidth":1},"encoding":{
          "x":{"field":"g","type":"nominal","sort":["no target","target"],"scale":{"paddingInner":0.206,"paddingOuter":0.176},"axis":{"title":null,"ticks":false,"labelAngle":0,"labelPadding":13}},
          "xOffset":{"field":"t","type":"nominal","sort":["Veh-DHF","7,8-DHF"],"scale":{"paddingInner":0,"paddingOuter":0}},
          "y":{"field":"mean","type":"quantitative","scale":{"domain":[0,75],"nice":false},"axis":{"values":[0,15,30,45,60,75],"title":["Mean distance","to cage (cm)"]}},
          "fill":{"field":"t","type":"nominal","scale":{"domain":["Veh-DHF","7,8-DHF"],"range":["white","black"]},"legend":{"title":null,"orient":"none","legendX":12,"legendY":-4,"symbolType":"square","symbolSize":110,"symbolStrokeColor":"black","symbolStrokeWidth":1,"labelFontSize":12,"labelOffset":6,"rowPadding":5}}}},
        {"mark":{"type":"rule","color":"black","strokeWidth":1},"encoding":{"x":{"field":"g","type":"nominal","sort":["no target","target"]},"xOffset":{"field":"t","type":"nominal","sort":["Veh-DHF","7,8-DHF"]},"y":{"field":"lo","type":"quantitative","axis":{"values":[0,15,30,45,60,75],"title":["Mean distance","to cage (cm)"]}},"y2":{"field":"hi"}}},
        {"mark":{"type":"tick","color":"black","size":12,"thickness":1},"encoding":{"x":{"field":"g","type":"nominal","sort":["no target","target"]},"xOffset":{"field":"t","type":"nominal","sort":["Veh-DHF","7,8-DHF"]},"y":{"field":"hi","type":"quantitative","axis":{"values":[0,15,30,45,60,75],"title":["Mean distance","to cage (cm)"]}}}},
        {"mark":{"type":"tick","color":"black","size":12,"thickness":1},"encoding":{"x":{"field":"g","type":"nominal","sort":["no target","target"]},"xOffset":{"field":"t","type":"nominal","sort":["Veh-DHF","7,8-DHF"]},"y":{"field":"lo","type":"quantitative","axis":{"values":[0,15,30,45,60,75],"title":["Mean distance","to cage (cm)"]}}}},
        {"mark":{"type":"text","fontSize":12,"baseline":"middle","dy":-9},"encoding":{"x":{"field":"g","type":"nominal","sort":["no target","target"]},"xOffset":{"field":"t","type":"nominal","sort":["Veh-DHF","7,8-DHF"]},"y":{"datum":0,"type":"quantitative","axis":{"values":[0,15,30,45,60,75],"title":["Mean distance","to cage (cm)"]}},"text":{"field":"n"},"color":{"condition":{"test":"datum.t==='7,8-DHF'","value":"white"},"value":"#222"}}},
        {"data":{"name":"eb"},"mark":{"type":"line","color":"#444","strokeWidth":1},"encoding":{"x":{"field":"g","type":"nominal","sort":["no target","target"]},"xOffset":{"field":"t","type":"nominal","sort":["Veh-DHF","7,8-DHF"]},"y":{"field":"y","type":"quantitative","axis":{"values":[0,15,30,45,60,75],"title":["Mean distance","to cage (cm)"]}},"order":{"field":"o"}}},
        {"data":{"name":"es"},"mark":{"type":"text","fontSize":14,"baseline":"middle","dy":3,"fill":"white","stroke":"white","strokeWidth":6},"encoding":{"x":{"field":"g","type":"nominal","sort":["no target","target"]},"y":{"field":"y","type":"quantitative","axis":{"values":[0,15,30,45,60,75],"title":["Mean distance","to cage (cm)"]}},"text":{"field":"s"}}},
        {"data":{"name":"es"},"mark":{"type":"text","fontSize":14,"baseline":"middle","dy":3,"fill":"black"},"encoding":{"x":{"field":"g","type":"nominal","sort":["no target","target"]},"y":{"field":"y","type":"quantitative","axis":{"values":[0,15,30,45,60,75],"title":["Mean distance","to cage (cm)"]}},"text":{"field":"s"}}}
       ]}]},
     {"title":{"text":"f","anchor":"start","frame":"bounds","fontSize":17,"fontWeight":"bold","offset":-18},
      "resolve":{"scale":{"fill":"independent"},"legend":{"fill":"independent"}},
      "vconcat":[{"width":143,"height":152,"data":{"name":"f"},
       "title":{"text":"HR rats","fontSize":16,"fontWeight":"bold","anchor":"middle","offset":11},
       "layer":[
        {"mark":{"type":"bar","stroke":"black","strokeWidth":1},"encoding":{
          "x":{"field":"g","type":"nominal","sort":["no target","target"],"scale":{"paddingInner":0.115,"paddingOuter":0.23},"axis":{"title":null,"ticks":false,"labelAngle":0,"labelPadding":13}},
          "xOffset":{"field":"t","type":"nominal","sort":["Veh-DHF","7,8-DHF"],"scale":{"paddingInner":0,"paddingOuter":0}},
          "y":{"field":"mean","type":"quantitative","scale":{"domain":[0,300],"nice":false},"axis":{"values":[0,60,120,180,240,300],"title":["Time in","interaction zone (s)"]}},
          "fill":{"field":"t","type":"nominal","scale":{"domain":["Veh-DHF","7,8-DHF"],"range":["white","black"]},"legend":{"title":null,"orient":"none","legendX":12,"legendY":-4,"symbolType":"square","symbolSize":110,"symbolStrokeColor":"black","symbolStrokeWidth":1,"labelFontSize":12,"labelOffset":6,"rowPadding":5}}}},
        {"mark":{"type":"rule","color":"black","strokeWidth":1},"encoding":{"x":{"field":"g","type":"nominal","sort":["no target","target"]},"xOffset":{"field":"t","type":"nominal","sort":["Veh-DHF","7,8-DHF"]},"y":{"field":"lo","type":"quantitative","axis":{"values":[0,60,120,180,240,300],"title":["Time in","interaction zone (s)"]}},"y2":{"field":"hi"}}},
        {"mark":{"type":"tick","color":"black","size":12,"thickness":1},"encoding":{"x":{"field":"g","type":"nominal","sort":["no target","target"]},"xOffset":{"field":"t","type":"nominal","sort":["Veh-DHF","7,8-DHF"]},"y":{"field":"hi","type":"quantitative","axis":{"values":[0,60,120,180,240,300],"title":["Time in","interaction zone (s)"]}}}},
        {"mark":{"type":"tick","color":"black","size":12,"thickness":1},"encoding":{"x":{"field":"g","type":"nominal","sort":["no target","target"]},"xOffset":{"field":"t","type":"nominal","sort":["Veh-DHF","7,8-DHF"]},"y":{"field":"lo","type":"quantitative","axis":{"values":[0,60,120,180,240,300],"title":["Time in","interaction zone (s)"]}}}},
        {"mark":{"type":"text","fontSize":12,"baseline":"middle","dy":-9},"encoding":{"x":{"field":"g","type":"nominal","sort":["no target","target"]},"xOffset":{"field":"t","type":"nominal","sort":["Veh-DHF","7,8-DHF"]},"y":{"datum":0,"type":"quantitative","axis":{"values":[0,60,120,180,240,300],"title":["Time in","interaction zone (s)"]}},"text":{"field":"n"},"color":{"condition":{"test":"datum.t==='7,8-DHF'","value":"white"},"value":"#222"}}},
        {"data":{"name":"fb"},"mark":{"type":"line","color":"#444","strokeWidth":1},"encoding":{"x":{"field":"g","type":"nominal","sort":["no target","target"]},"xOffset":{"field":"t","type":"nominal","sort":["Veh-DHF","7,8-DHF"]},"y":{"field":"y","type":"quantitative","axis":{"values":[0,60,120,180,240,300],"title":["Time in","interaction zone (s)"]}},"order":{"field":"o"}}},
        {"data":{"name":"fs"},"mark":{"type":"text","fontSize":14,"baseline":"middle","dy":3,"fill":"white","stroke":"white","strokeWidth":6},"encoding":{"x":{"field":"g","type":"nominal","sort":["no target","target"]},"y":{"field":"y","type":"quantitative","axis":{"values":[0,60,120,180,240,300],"title":["Time in","interaction zone (s)"]}},"text":{"field":"s"}}},
        {"data":{"name":"fs"},"mark":{"type":"text","fontSize":14,"baseline":"middle","dy":3,"fill":"black"},"encoding":{"x":{"field":"g","type":"nominal","sort":["no target","target"]},"y":{"field":"y","type":"quantitative","axis":{"values":[0,60,120,180,240,300],"title":["Time in","interaction zone (s)"]}},"text":{"field":"s"}}}
       ]}]}
    ]}
 ]}
]
}
